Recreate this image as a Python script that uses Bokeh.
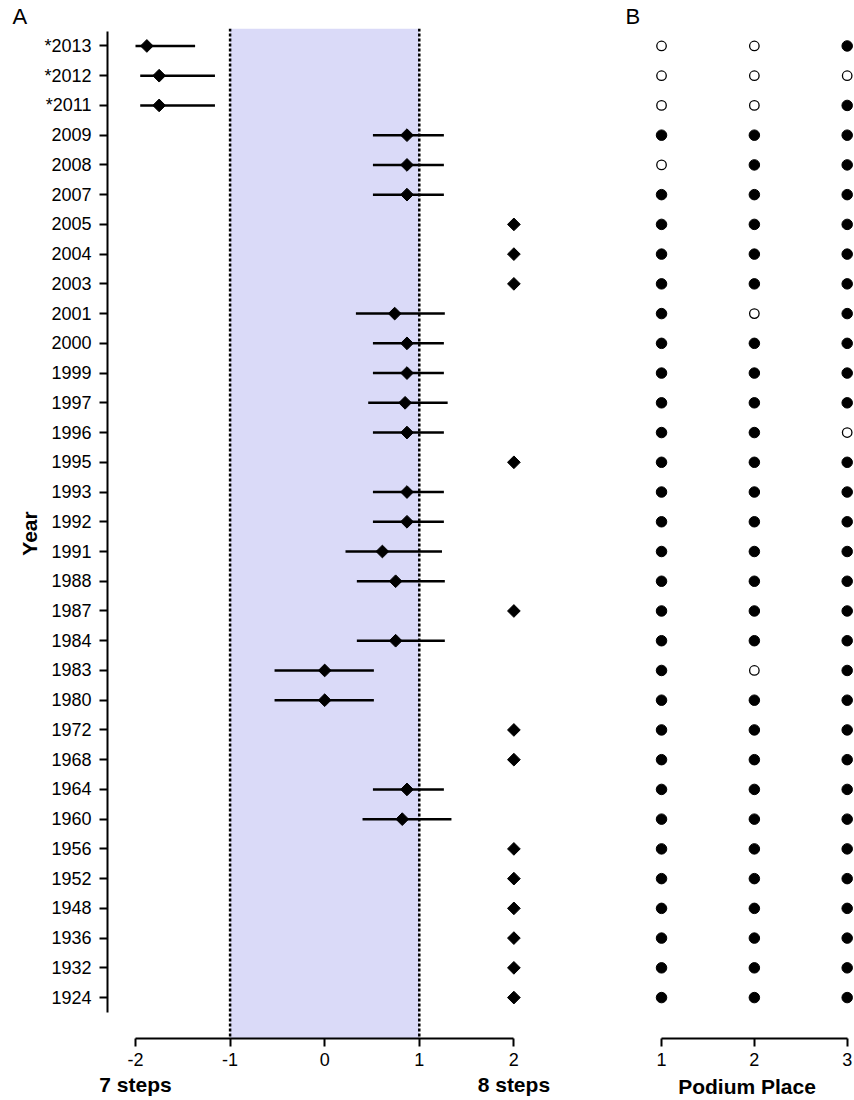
import numpy as np
from bokeh.plotting import figure
from bokeh.models import (Range1d, FixedTicker, LinearAxis, BoxAnnotation, Span,
                          ColumnDataSource, Title)
from bokeh.layouts import row
from bokeh.embed import file_html
from bokeh.resources import INLINE

# ---------------- data ----------------
years = ["2013", "2012", "2011", "2009", "2008", "2007", "2005", "2004", "2003",
         "2001", "2000", "1999", "1997", "1996", "1995", "1993", "1992", "1991",
         "1988", "1987", "1984", "1983", "1980", "1972", "1968", "1964", "1960",
         "1956", "1952", "1948", "1936", "1932", "1924"]
nan = float("nan")
mean_diff = [-1.88, -1.75, -1.75, 0.87, 0.87, 0.87, 2, 2, 2,
             0.74, 0.87, 0.87, 0.85, 0.87, 2, 0.87, 0.87, 0.61,
             0.75, 2, 0.75, 0.0, 0.0, 2, 2, 0.87, 0.82,
             2, 2, 2, 2, 2, 2]
ci_low = [-2.00, -1.95, -1.95, 0.51, 0.51, 0.51, nan, nan, nan,
          0.33, 0.51, 0.51, 0.46, 0.51, nan, 0.51, 0.51, 0.22,
          0.34, nan, 0.34, -0.53, -0.53, nan, nan, 0.51, 0.40,
          nan, nan, nan, nan, nan, nan]
ci_high = [-1.37, -1.16, -1.16, 1.26, 1.26, 1.26, nan, nan, nan,
           1.27, 1.26, 1.26, 1.30, 1.26, nan, 1.26, 1.26, 1.24,
           1.27, nan, 1.27, 0.52, 0.52, nan, nan, 1.26, 1.34,
           nan, nan, nan, nan, nan, nan]
starred = ["2013", "2012", "2011"]
x_ticks_a = [-2, -1, 0, 1, 2]
x_end_labels = {-2: "7 steps", 2: "8 steps"}
shade_bounds = (-1, 1)

podium_places = [1, 2, 3]
# 1 = filled, 0 = open
place1 = [0, 0, 0, 1, 0, 1, 1, 1, 1, 1, 1, 1, 1, 1, 1, 1, 1, 1, 1, 1, 1, 1, 1, 1, 1, 1, 1, 1, 1, 1, 1, 1, 1]
place2 = [0, 0, 0, 1, 1, 1, 1, 1, 1, 0, 1, 1, 1, 1, 1, 1, 1, 1, 1, 1, 1, 0, 1, 1, 1, 1, 1, 1, 1, 1, 1, 1, 1]
place3 = [1, 0, 1, 1, 1, 1, 1, 1, 1, 1, 1, 1, 1, 0, 1, 1, 1, 1, 1, 1, 1, 1, 1, 1, 1, 1, 1, 1, 1, 1, 1, 1, 1]

# ---------------- helpers ----------------
N = len(years)
ypos = [N - 1 - i for i in range(N)]
FONT = "Liberation Sans"

y_range = Range1d(-1.376, 32.587)


def style_common(p):
    p.outline_line_color = None
    p.xgrid.visible = False
    p.ygrid.visible = False
    p.background_fill_color = "white"
    p.border_fill_color = "white"


def style_axis(ax):
    ax.axis_line_width = 2
    ax.major_tick_line_width = 2
    ax.major_tick_out = 8
    ax.major_tick_in = 0
    ax.minor_tick_line_color = None
    ax.major_label_text_font = FONT
    ax.major_label_text_font_size = "18px"
    ax.major_label_text_color = "black"
    ax.axis_line_color = "black"
    ax.major_tick_line_color = "black"
    ax.axis_label_text_font = FONT
    ax.axis_label_text_font_style = "bold"
    ax.axis_label_text_font_size = "21px"
    ax.axis_label_text_color = "black"


def panel_title(text, offset):
    return Title(text=text, align="left", offset=offset, standoff=0,
                 text_font=FONT, text_font_size="22px", text_font_style="normal",
                 text_color="black")


# ---------------- panel A ----------------
pa = figure(width=600, height=1100, x_range=Range1d(-2.296, 2.292), y_range=y_range,
            output_backend="svg", toolbar_location=None,
            min_border_left=107, min_border_right=59, min_border_top=28, min_border_bottom=60)
style_common(pa)
pa.title = panel_title("A", -95)

pa.add_layout(BoxAnnotation(left=shade_bounds[0], right=shade_bounds[1],
                            fill_color="#dadaf8", fill_alpha=1.0, line_color=None,
                            level="underlay"))
for loc in shade_bounds:
    pa.add_layout(Span(location=loc, dimension="height", line_color="black",
                       line_width=2.5, line_dash="3 2"))

src = ColumnDataSource(dict(y=ypos, m=mean_diff))
mask = [not np.isnan(v) for v in ci_low]
seg = ColumnDataSource(dict(y=[y for y, k in zip(ypos, mask) if k],
                            lo=[v for v, k in zip(ci_low, mask) if k],
                            hi=[v for v, k in zip(ci_high, mask) if k]))
pa.segment(x0="lo", x1="hi", y0="y", y1="y", source=seg, line_color="black", line_width=2.5)
pa.scatter(x="m", y="y", source=src, marker="square", angle=np.pi / 4, size=9,
           fill_color="black", line_color="black")

xa = pa.xaxis[0]
style_axis(xa)
xa.ticker = FixedTicker(ticks=x_ticks_a)
xa.major_label_overrides = {t: str(t) for t in x_ticks_a}
xa.bounds = (x_ticks_a[0], x_ticks_a[-1])
xa.major_label_standoff = 6

xa2 = LinearAxis(ticker=FixedTicker(ticks=list(x_end_labels.keys())),
                 major_label_overrides={k: v for k, v in x_end_labels.items()})
xa2.axis_line_color = None
xa2.major_tick_line_color = None
xa2.minor_tick_line_color = None
xa2.major_tick_out = 0
xa2.major_tick_in = 0
xa2.major_label_standoff = 4
xa2.major_label_text_font = FONT
xa2.major_label_text_font_style = "bold"
xa2.major_label_text_font_size = "21px"
xa2.major_label_text_color = "black"
pa.add_layout(xa2, "below")

ya = pa.yaxis[0]
style_axis(ya)
ya.ticker = FixedTicker(ticks=ypos)
ya.major_label_overrides = {y: ("*" + yr if yr in starred else yr) for y, yr in zip(ypos, years)}
ya.bounds = (-0.5, N - 0.5)
ya.major_label_standoff = 8
ya.axis_label = "Year"
ya.axis_label_standoff = 0

# ---------------- panel B ----------------
pb = figure(width=254, height=1100, x_range=Range1d(0.7735, 3.068), y_range=y_range,
            output_backend="svg", toolbar_location=None,
            min_border_left=40, min_border_right=1, min_border_top=28, min_border_bottom=60)
style_common(pb)
pb.title = panel_title("B", -15)
pb.yaxis.visible = False

for place, vals in zip(podium_places, [place1, place2, place3]):
    filled = [y for y, v in zip(ypos, vals) if v == 1]
    opened = [y for y, v in zip(ypos, vals) if v == 0]
    pb.scatter(x=[place] * len(filled), y=filled, size=10.5, marker="circle",
               fill_color="black", line_color="black")
    pb.scatter(x=[place] * len(opened), y=opened, size=9.5, marker="circle",
               fill_color="white", line_color="black", line_width=1.3)

xb = pb.xaxis[0]
style_axis(xb)
xb.ticker = FixedTicker(ticks=podium_places)
xb.bounds = (podium_places[0], podium_places[-1])
xb.major_label_standoff = 6
xb.axis_label = "Podium Place"
xb.axis_label_standoff = 6

layout = row(pa, pb)
open("out.html", "w").write(file_html(layout, INLINE))
